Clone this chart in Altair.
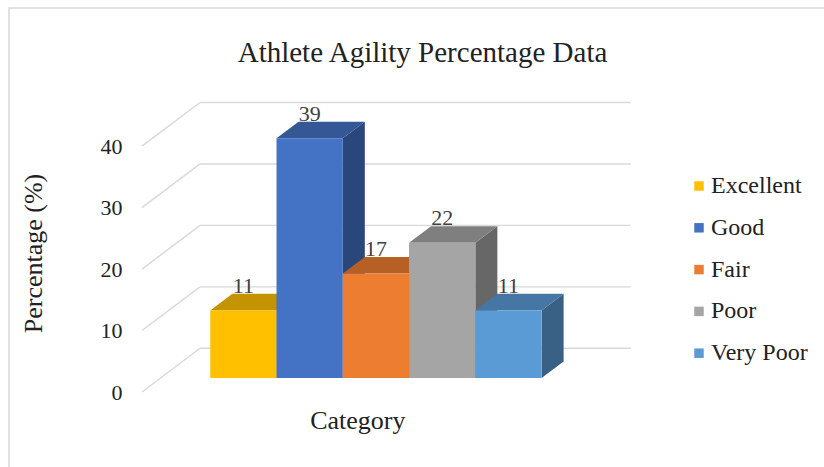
import altair as alt
import pandas as pd

# ---- data -------------------------------------------------------------
categories = ["Excellent", "Good", "Fair", "Poor", "Very Poor"]
values = [11, 39, 17, 22, 11]
palette = ["#FFC000", "#4472C4", "#ED7D31", "#A5A5A5", "#5B9BD5"]
y_ticks = [0, 10, 20, 30, 40]

# ---- oblique projection of the 3-D column chart --------------------------
# x is measured in column widths, y in percentage points.
DEPTH_X, DEPTH_Y = 0.875, 7.11   # shift of the back wall relative to the axis plane
BAR_Z0, BAR_Z1 = 0.32, 0.70      # front / back of the columns as a fraction of the depth
GAP = 0.75                       # empty space left and right of the column group
TOP_SHADE, SIDE_SHADE = 0.77, 0.63

SERIF = "Liberation Serif"
INK = "#222222"
GRID = "#D9D9D9"


def shade(hex_color, k):
    r, g, b = (int(hex_color[i:i + 2], 16) for i in (1, 3, 5))
    return "#{:02X}{:02X}{:02X}".format(int(r * k), int(g * k), int(b * k))


n = len(categories)
floor_w = n + 2 * GAP
bar_dx = (BAR_Z1 - BAR_Z0) * DEPTH_X
bar_dy = (BAR_Z1 - BAR_Z0) * DEPTH_Y
bar_base = BAR_Z0 * DEPTH_Y

front_rows, top_rows, side_rows = [], [], []
for i, (cat, val, col) in enumerate(zip(categories, values, palette)):
    x0 = GAP + i + BAR_Z0 * DEPTH_X
    x1 = x0 + 1
    y0 = bar_base
    y1 = bar_base + val
    front_rows.append(dict(cat=cat, value=val, x0=x0, x1=x1, xm=x0 + 0.5,
                           y0=y0, y1=y1, ylab=y1 + bar_dy))
    top_color = shade(col, TOP_SHADE)
    top_rows.append(dict(cat=cat, shade=top_color, y=y1, xa=x0, xb=x1))
    top_rows.append(dict(cat=cat, shade=top_color, y=y1 + bar_dy,
                         xa=x0 + bar_dx, xb=x1 + bar_dx))
    side_color = shade(col, SIDE_SHADE)
    side_rows.append(dict(cat=cat, shade=side_color, x=x1, ya=y0, yb=y1))
    side_rows.append(dict(cat=cat, shade=side_color, x=x1 + bar_dx,
                          ya=y0 + bar_dy, yb=y1 + bar_dy))

fronts = pd.DataFrame(front_rows)
tops = pd.DataFrame(top_rows)
sides = pd.DataFrame(side_rows)

walls = pd.DataFrame({"t": y_ticks})
walls["xf"] = 0.0
walls["xb"] = DEPTH_X
walls["xe"] = floor_w + DEPTH_X
walls["yb"] = walls["t"] + DEPTH_Y

# ---- scales and axes ----------------------------------------------------
X_MAX, Y_MAX = 7.5, 48
W, H = 497, 295
px_per_col = W / X_MAX

xs = alt.Scale(domain=[0, X_MAX], nice=False, zero=False)
ys = alt.Scale(domain=[0, Y_MAX], nice=False, zero=False)

x_axis = alt.Axis(title="Category", labels=False, ticks=False, domain=False,
                  grid=False, titleFont=SERIF, titleFontSize=26,
                  titleFontWeight="normal", titleColor=INK,
                  titleX=floor_w / 2 * px_per_col, titleY=28,
                  titleAlign="center", titleBaseline="middle")
y_axis = alt.Axis(title="Percentage (%)", values=y_ticks, ticks=False,
                  domain=False, grid=False, labelFont=SERIF, labelFontSize=22,
                  labelColor=INK, labelPadding=20, titleFont=SERIF,
                  titleFontSize=26, titleFontWeight="normal", titleColor=INK,
                  titleAngle=270, titleX=-109, titleY=156,
                  titleAlign="center", titleBaseline="middle")


def X(field):
    return alt.X(field, type="quantitative", scale=xs, axis=x_axis)


def Y(field):
    return alt.Y(field, type="quantitative", scale=ys, axis=y_axis)


# ---- layers -------------------------------------------------------------
frame = alt.Chart(pd.DataFrame({"k": [0]})).mark_rect(
    fill="transparent", stroke=GRID, strokeWidth=1.5
).encode(x=alt.value(-133), y=alt.value(-89), x2=alt.value(800),
         y2=alt.value(600))

diagonals = alt.Chart(walls).mark_rule(color=GRID, strokeWidth=1.4).encode(
    x=X("xf"), x2="xb", y=Y("t"), y2="yb"
)
back_wall = alt.Chart(walls).mark_rule(color=GRID, strokeWidth=1.4).encode(
    x=X("xb"), x2="xe", y=Y("yb")
)

side_faces = alt.Chart(sides).mark_area(orient="vertical").encode(
    x=X("x"), y=Y("ya"), y2="yb",
    fill=alt.Fill("shade:N", scale=None), detail="cat:N"
)
top_faces = alt.Chart(tops).mark_area(orient="horizontal").encode(
    y=Y("y"), x=X("xa"), x2="xb",
    fill=alt.Fill("shade:N", scale=None), detail="cat:N"
)
front_faces = alt.Chart(fronts).mark_rect().encode(
    x=X("x0"), x2="x1", y=Y("y0"), y2="y1",
    color=alt.Color(
        "cat:N",
        scale=alt.Scale(domain=categories, range=palette),
        legend=alt.Legend(title=None, orient="none", legendX=545, legendY=77,
                          direction="vertical", symbolType="square",
                          symbolSize=90, symbolStrokeWidth=0,
                          labelFont=SERIF, labelFontSize=24, labelColor=INK,
                          labelOffset=0, rowPadding=17.8),
    ),
)
value_labels = alt.Chart(fronts).mark_text(
    font=SERIF, fontSize=22, color="#404040", baseline="alphabetic", dy=-1
).encode(x=X("xm"), y=Y("ylab"), text="value:Q")

chart = alt.layer(
    frame, diagonals, back_wall, side_faces, top_faces, front_faces,
    value_labels
).resolve_scale(fill="independent").properties(
    width=W,
    height=H,
    padding={"left": 142, "top": 97, "right": 185, "bottom": 75},
    autosize=alt.AutoSizeParams(type="none"),
    background="white",
    title=alt.TitleParams(
        "Athlete Agility Percentage Data", font=SERIF, fontSize=29,
        fontWeight="normal", color=INK, anchor="middle", dx=32, offset=-84,
        baseline="alphabetic",
    ),
).configure_view(strokeWidth=0)

chart.save("out.html", embed_options={"renderer": "svg", "actions": False})
